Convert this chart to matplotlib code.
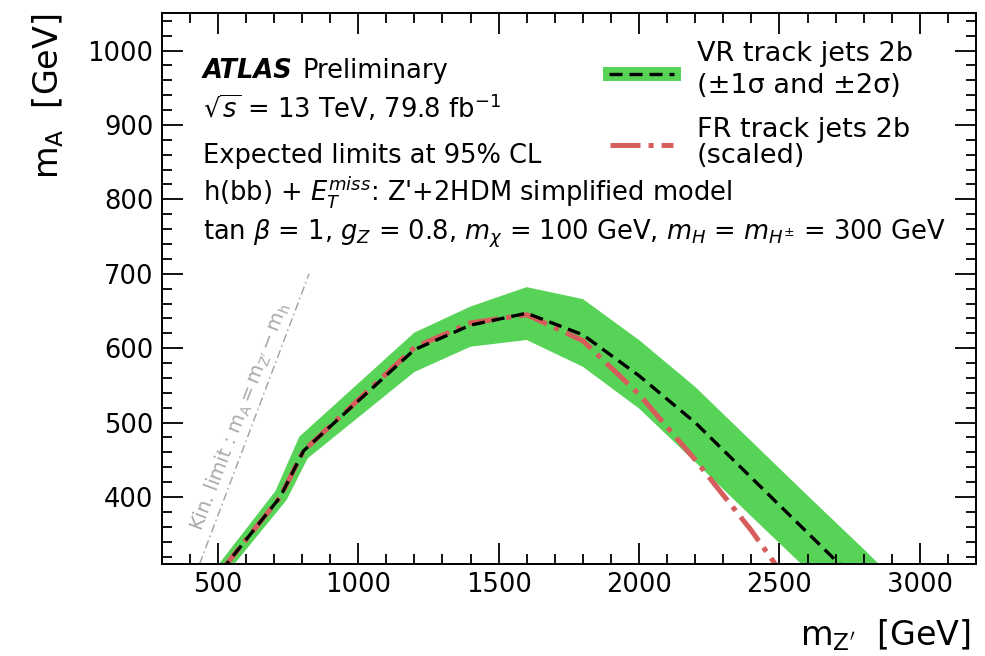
import matplotlib
matplotlib.use("Agg")
import matplotlib.pyplot as plt
from matplotlib.lines import Line2D
from matplotlib.patches import Rectangle
from matplotlib.ticker import MultipleLocator

plt.rcParams['font.family'] = ['DejaVu Sans']
plt.rcParams['mathtext.fontset'] = 'dejavusans'
plt.rcParams['lines.scale_dashes'] = False

# Expected limit contour, VR track jets 2b
vr_mzp = [510, 722, 805, 1200, 1400, 1600, 1800, 2000, 2200, 2400, 2600, 2800]
vr_ma = [300, 400, 462, 598, 631, 647, 618, 563, 500, 426, 352, 278]

# Uncertainty band edges (VR)
band_up_mzp = [483, 705, 790, 1200, 1400, 1600, 1800, 2000, 2200, 2400, 2600, 2800, 2900]
band_up_ma = [300, 408, 481, 621, 656, 682, 666, 611, 548, 475, 402, 330, 293]
band_lo_mzp = [537, 745, 820, 1200, 1400, 1600, 1800, 2000, 2200, 2400, 2600]
band_lo_ma = [300, 396, 452, 568, 602, 611, 575, 519, 447, 374, 302]

# Expected limit contour, FR track jets 2b (scaled)
fr_mzp = [510, 722, 805, 1200, 1400, 1600, 1800, 2000, 2200, 2400, 2500]
fr_ma = [300, 400, 462, 601, 634, 645, 610, 538, 450, 355, 302]

# Kinematic limit m_A = m_Z' - m_h
m_h = 125
kin_mzp = [435, 825]

GREEN = '#57d357'
RED = '#d75c5c'

W, H = 985, 656
fig = plt.figure(figsize=(W / 100, H / 100), dpi=100)


def fx(px):
    return px / W


def fy(py):
    return 1 - py / H


ax = fig.add_axes([fx(161.7), fy(564), (976 - 161.7) / W, (564 - 13.3) / H])

# band polygon
poly_x = band_up_mzp + band_lo_mzp[::-1]
poly_y = band_up_ma + band_lo_ma[::-1]
ax.fill(poly_x, poly_y, color=GREEN, lw=0, zorder=1)

ax.plot(fr_mzp, fr_ma, color=RED, lw=3.6, dashes=(21.6, 5.8, 3.6, 5.8),
        solid_capstyle='butt', dash_capstyle='butt', zorder=2)
ax.plot(vr_mzp, vr_ma, color='black', lw=2.4, dashes=(9.4, 5.0),
        dash_capstyle='butt', zorder=3)

kin_ma = [x - m_h for x in kin_mzp]
ax.plot(kin_mzp, kin_ma, color='#a0a0a0', lw=1.0, dashes=(6, 2.5, 1.2, 2.5), zorder=2)

ax.set_xlim(300, 3200)
ax.set_ylim(310, 1050)
ax.xaxis.set_major_locator(MultipleLocator(500))
ax.xaxis.set_minor_locator(MultipleLocator(100))
ax.yaxis.set_major_locator(MultipleLocator(100))
ax.yaxis.set_minor_locator(MultipleLocator(20))
ax.tick_params(which='both', direction='in', top=True, right=True,
               width=1.3, labelsize=18.5)
ax.tick_params(which='major', length=15)
ax.tick_params(which='minor', length=7.5)
ax.tick_params(axis='x', pad=6)
ax.tick_params(axis='y', pad=6)
for s in ax.spines.values():
    s.set_linewidth(1.4)

# axis titles
fig.text(fx(971), fy(645), r"$\mathrm{m_{Z^{\prime}}}$  [GeV]", ha='right',
         va='baseline', fontsize=24)
fig.text(fx(58), fy(14), r"$\mathrm{m_{A}}$  [GeV]", ha='right', va='baseline',
         rotation=90, rotation_mode='anchor', fontsize=24)

# text block
fs = 18.5
atl = fig.text(fx(203), fy(78), "ATLAS", fontsize=fs, fontweight='bold',
               style='italic', va='baseline')
renderer = fig.canvas.get_renderer()
atl_end = atl.get_window_extent(renderer).x1
fig.text(fx(atl_end + 10), fy(78), "Preliminary", fontsize=fs, va='baseline')
fig.text(fx(203), fy(118), r"$\sqrt{s}$ = 13 TeV, 79.8 fb$^{-1}$", fontsize=fs,
         va='baseline')
fig.text(fx(203), fy(163), "Expected limits at 95% CL", fontsize=fs, va='baseline')
fig.text(fx(203), fy(200), r"h(bb) + $E_{T}^{miss}$: Z'+2HDM simplified model",
         fontsize=fs, va='baseline')
fig.text(fx(203), fy(240),
         r"tan $\beta$ = 1, $g_{Z}$ = 0.8, $m_{\chi}$ = 100 GeV, $m_{H}$ = $m_{H^{\pm}}$ = 300 GeV",
         fontsize=fs, va='baseline')

# kinematic-limit label
fig.text(fx(240), fy(417),
         r"Kin. limit : $\mathrm{m_{A} = m_{Z^{\prime}} - m_{h}}$",
         color='#a8a8a8', fontsize=14, rotation=69, rotation_mode='anchor',
         ha='center', va='center')

# legend
fig.add_artist(Rectangle((fx(602.7), fy(80.7)), 78 / W, 14 / H,
                         transform=fig.transFigure, color=GREEN, lw=0))
fig.add_artist(Line2D([fx(609), fx(674)], [fy(73.7), fy(73.7)],
                      transform=fig.transFigure, color='black', lw=2.4,
                      dashes=(9.4, 5.0), dash_capstyle='butt'))
fig.add_artist(Line2D([fx(610), fx(673)], [fy(145), fy(145)],
                      transform=fig.transFigure, color=RED, lw=3.6,
                      dashes=(21.6, 5.8, 3.6, 5.8), dash_capstyle='butt'))
lfs = 19.5
fig.text(fx(697), fy(61), "VR track jets 2b", fontsize=lfs, va='baseline')
fig.text(fx(697), fy(93), "(±1σ and ±2σ)", fontsize=lfs, va='baseline')
fig.text(fx(697), fy(137), "FR track jets 2b", fontsize=lfs, va='baseline')
fig.text(fx(697), fy(163), "(scaled)", fontsize=lfs, va='baseline')

fig.savefig("out.png", dpi=100)
